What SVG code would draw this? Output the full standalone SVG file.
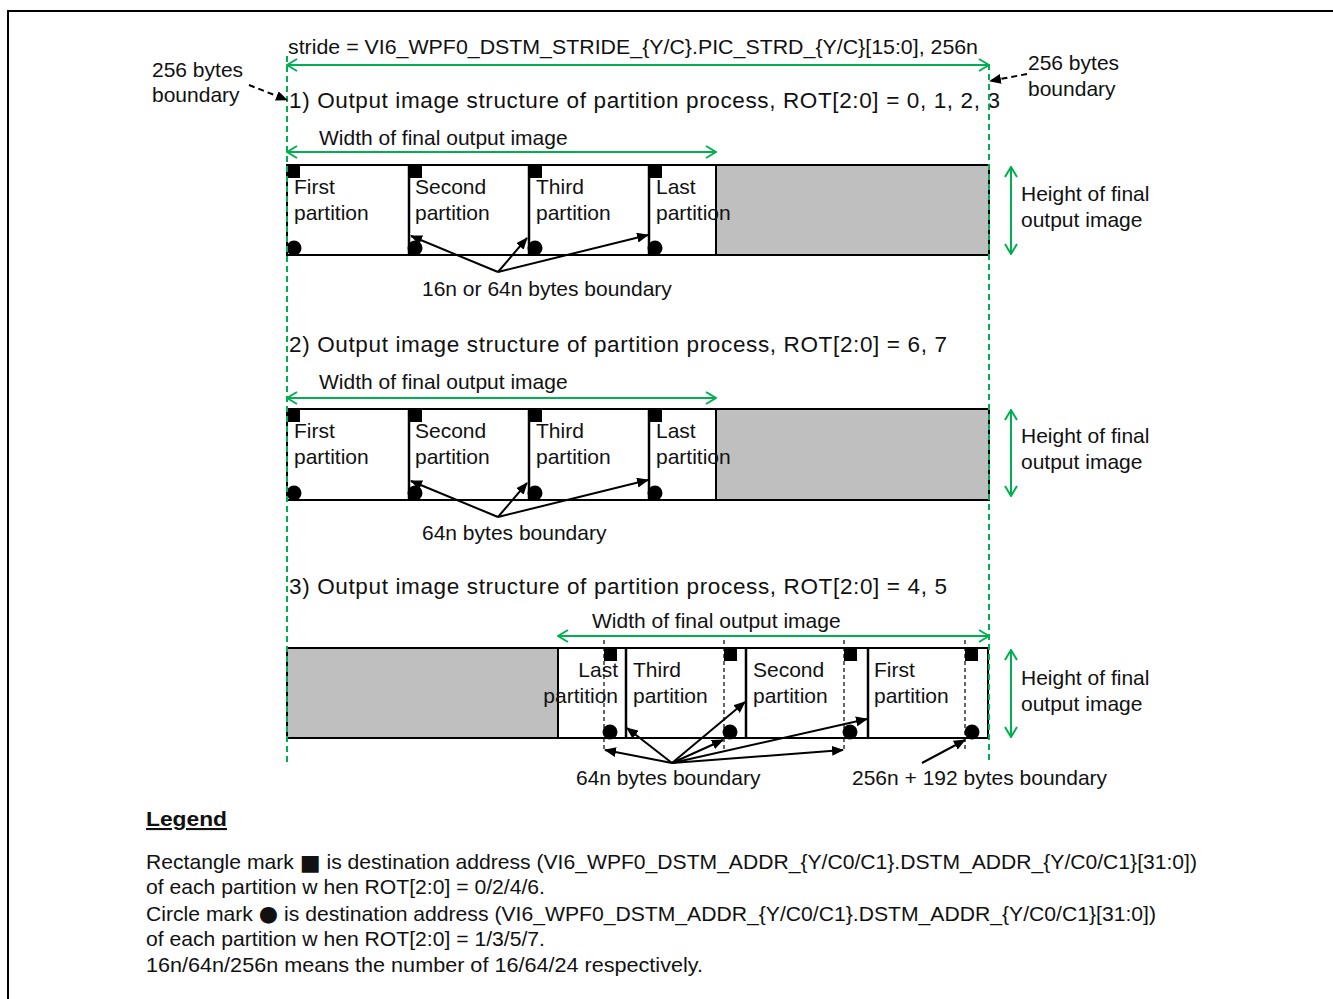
<svg xmlns="http://www.w3.org/2000/svg" width="1333" height="999" viewBox="0 0 1333 999">
<style>
text{font-family:"Liberation Sans",Arial,sans-serif;fill:#111;}
.t{font-size:21px;}
.h{font-size:22.5px;}
.lg{font-size:21px;}
.mk{font-size:22px;font-family:"DejaVu Sans",sans-serif;}
.box{fill:#fff;stroke:#000;stroke-width:2;}
.gray{fill:#BFBFBF;stroke:#000;stroke-width:2;}
.div{stroke:#000;stroke-width:2.5;}
.dv{stroke:#000;stroke-width:1.2;stroke-dasharray:4 3;fill:none;}
.g{stroke:#00B050;stroke-width:2;fill:none;marker-start:url(#ga);marker-end:url(#ga);}
.gd{stroke:#00B050;stroke-width:2;stroke-dasharray:6 4;fill:none;}
.ba{stroke:#000;stroke-width:2;fill:none;marker-end:url(#ba);}
.bd{stroke:#000;stroke-width:2;stroke-dasharray:6 4;fill:none;marker-end:url(#ba);}
</style>
<defs>
<marker id="ga" viewBox="0 0 12 14" refX="11" refY="7" markerWidth="12" markerHeight="14" markerUnits="userSpaceOnUse" orient="auto-start-reverse">
<path d="M1,1 L11,7 L1,13" fill="none" stroke="#00B050" stroke-width="2"/>
</marker>
<marker id="ba" viewBox="0 0 12 10" refX="11" refY="5" markerWidth="12" markerHeight="10" markerUnits="userSpaceOnUse" orient="auto">
<path d="M0,0 L12,5 L0,10 z" fill="#000"/>
</marker>
</defs>
<rect x="8" y="11" width="1340" height="1000" fill="none" stroke="#000" stroke-width="2"/>

<g id="stride">
<text class="t" x="288" y="54" textLength="690" lengthAdjust="spacingAndGlyphs">stride = VI6_WPF0_DSTM_STRIDE_{Y/C}.PIC_STRD_{Y/C}[15:0],  256n</text>
<text class="t" x="152" y="77">256 bytes</text>
<text class="t" x="152" y="102">boundary</text>
<text class="t" x="1028" y="70">256 bytes</text>
<text class="t" x="1028" y="96">boundary</text>
</g>

<g id="section1">
<text class="h" x="289" y="108" textLength="711" lengthAdjust="spacing">1) Output image structure of partition process, ROT[2:0] = 0, 1, 2, 3</text>
<text class="t" x="319" y="145">Width of final output image</text>
<rect class="box" x="287" y="165" width="702" height="90"/>
<rect class="gray" x="716" y="165" width="273" height="90"/>
<line class="div" x1="409" y1="165" x2="409" y2="255"/>
<line class="div" x1="529" y1="165" x2="529" y2="255"/>
<line class="div" x1="649" y1="165" x2="649" y2="255"/>
<rect x="287" y="165" width="13" height="13"/>
<rect x="408" y="165" width="14" height="13"/>
<rect x="528" y="165" width="14" height="13"/>
<rect x="648" y="165" width="14" height="13"/>
<circle cx="294" cy="248" r="7.5"/>
<circle cx="415" cy="248" r="7.5"/>
<circle cx="535" cy="248" r="7.5"/>
<circle cx="655" cy="248" r="7.5"/>
<text class="t" x="294" y="194">First</text>
<text class="t" x="294" y="220">partition</text>
<text class="t" x="415" y="194">Second</text>
<text class="t" x="415" y="220">partition</text>
<text class="t" x="536" y="194">Third</text>
<text class="t" x="536" y="220">partition</text>
<text class="t" x="656" y="194">Last</text>
<text class="t" x="656" y="220">partition</text>
<text class="t" x="1021" y="201">Height of final</text>
<text class="t" x="1021" y="227">output image</text>
<text class="t" x="422" y="296">16n or 64n bytes boundary</text>
</g>

<g id="section2">
<text class="h" x="289" y="352" textLength="658" lengthAdjust="spacing">2) Output image structure of partition process, ROT[2:0] = 6, 7</text>
<text class="t" x="319" y="389">Width of final output image</text>
<rect class="box" x="287" y="409" width="702" height="91"/>
<rect class="gray" x="716" y="409" width="273" height="91"/>
<line class="div" x1="409" y1="409" x2="409" y2="500"/>
<line class="div" x1="529" y1="409" x2="529" y2="500"/>
<line class="div" x1="649" y1="409" x2="649" y2="500"/>
<rect x="287" y="409" width="13" height="13"/>
<rect x="408" y="409" width="14" height="13"/>
<rect x="528" y="409" width="14" height="13"/>
<rect x="648" y="409" width="14" height="13"/>
<circle cx="294" cy="493" r="7.5"/>
<circle cx="415" cy="493" r="7.5"/>
<circle cx="535" cy="493" r="7.5"/>
<circle cx="655" cy="493" r="7.5"/>
<text class="t" x="294" y="438">First</text>
<text class="t" x="294" y="464">partition</text>
<text class="t" x="415" y="438">Second</text>
<text class="t" x="415" y="464">partition</text>
<text class="t" x="536" y="438">Third</text>
<text class="t" x="536" y="464">partition</text>
<text class="t" x="656" y="438">Last</text>
<text class="t" x="656" y="464">partition</text>
<text class="t" x="1021" y="443">Height of final</text>
<text class="t" x="1021" y="469">output image</text>
<text class="t" x="422" y="540">64n bytes boundary</text>
</g>

<g id="section3">
<text class="h" x="289" y="594" textLength="658" lengthAdjust="spacing">3) Output image structure of partition process, ROT[2:0] = 4, 5</text>
<text class="t" x="592" y="628">Width of final output image</text>
<rect class="box" x="287" y="648" width="701" height="90"/>
<rect class="gray" x="287" y="648" width="271" height="90"/>
<line class="div" x1="626" y1="648" x2="626" y2="738"/>
<line class="div" x1="746" y1="648" x2="746" y2="738"/>
<line class="div" x1="868" y1="648" x2="868" y2="738"/>
<line class="dv" x1="604" y1="640" x2="604" y2="752"/>
<line class="dv" x1="724" y1="640" x2="724" y2="752"/>
<line class="dv" x1="844" y1="640" x2="844" y2="752"/>
<line class="dv" x1="965" y1="640" x2="965" y2="752"/>
<rect x="604" y="648" width="13" height="13"/>
<rect x="724" y="648" width="13" height="13"/>
<rect x="844" y="648" width="13" height="13"/>
<rect x="965" y="648" width="13" height="13"/>
<circle cx="610" cy="732" r="7.5"/>
<circle cx="730" cy="732" r="7.5"/>
<circle cx="850" cy="732" r="7.5"/>
<circle cx="972" cy="732" r="7.5"/>
<text class="t" x="618" y="677" text-anchor="end">Last</text>
<text class="t" x="618" y="703" text-anchor="end">partition</text>
<text class="t" x="633" y="677">Third</text>
<text class="t" x="633" y="703">partition</text>
<text class="t" x="753" y="677">Second</text>
<text class="t" x="753" y="703">partition</text>
<text class="t" x="874" y="677">First</text>
<text class="t" x="874" y="703">partition</text>
<text class="t" x="1021" y="685">Height of final</text>
<text class="t" x="1021" y="711">output image</text>
<text class="t" x="576" y="785">64n bytes boundary</text>
<text class="t" x="852" y="785">256n + 192 bytes boundary</text>
</g>

<g id="connectors">
<line class="gd" x1="287" y1="56" x2="287" y2="762"/>
<line class="gd" x1="989" y1="64" x2="989" y2="762"/>
<line class="g" x1="287" y1="65" x2="989" y2="65"/>
<line class="bd" x1="249" y1="85" x2="287" y2="100"/>
<line class="bd" x1="1027" y1="74" x2="990" y2="81"/>
<line class="g" x1="287" y1="152" x2="716" y2="152"/>
<line class="g" x1="1011" y1="167" x2="1011" y2="254"/>
<line class="ba" x1="498" y1="272" x2="411" y2="236"/>
<line class="ba" x1="498" y1="272" x2="527" y2="238"/>
<line class="ba" x1="498" y1="272" x2="648" y2="235"/>
<line class="g" x1="287" y1="398" x2="716" y2="398"/>
<line class="g" x1="1011" y1="410" x2="1011" y2="496"/>
<line class="ba" x1="498" y1="517" x2="411" y2="481"/>
<line class="ba" x1="498" y1="517" x2="527" y2="483"/>
<line class="ba" x1="498" y1="517" x2="648" y2="480"/>
<line class="g" x1="558" y1="636" x2="989" y2="636"/>
<line class="g" x1="1011" y1="650" x2="1011" y2="737"/>
<line class="ba" x1="672" y1="763" x2="605" y2="750"/>
<line class="ba" x1="672" y1="763" x2="627" y2="728"/>
<line class="ba" x1="672" y1="763" x2="723" y2="740"/>
<line class="ba" x1="672" y1="763" x2="745" y2="702"/>
<line class="ba" x1="672" y1="763" x2="843" y2="750"/>
<line class="ba" x1="672" y1="763" x2="867" y2="719"/>
<line class="ba" x1="922" y1="763" x2="965" y2="740"/>
</g>

<g id="legend">
<text class="lg" x="146" y="826" font-weight="bold" text-decoration="underline" textLength="81" lengthAdjust="spacingAndGlyphs">Legend</text>
<text class="lg" x="146" y="869" textLength="1051" lengthAdjust="spacingAndGlyphs">Rectangle mark <tspan class="mk" dy="1">■</tspan><tspan dy="-1"> is destination address (VI6_WPF0_DSTM_ADDR_{Y/C0/C1}.DSTM_ADDR_{Y/C0/C1}[31:0])</tspan></text>
<text class="lg" x="146" y="894" textLength="399" lengthAdjust="spacingAndGlyphs">of each partition w hen ROT[2:0] = 0/2/4/6.</text>
<text class="lg" x="146" y="921" textLength="1010" lengthAdjust="spacingAndGlyphs">Circle mark <tspan class="mk">●</tspan> is destination address (VI6_WPF0_DSTM_ADDR_{Y/C0/C1}.DSTM_ADDR_{Y/C0/C1}[31:0])</text>
<text class="lg" x="146" y="946" textLength="399" lengthAdjust="spacingAndGlyphs">of each partition w hen ROT[2:0] = 1/3/5/7.</text>
<text class="lg" x="146" y="972" textLength="557" lengthAdjust="spacingAndGlyphs">16n/64n/256n means the number of 16/64/24 respectively.</text>
</g>
</svg>
